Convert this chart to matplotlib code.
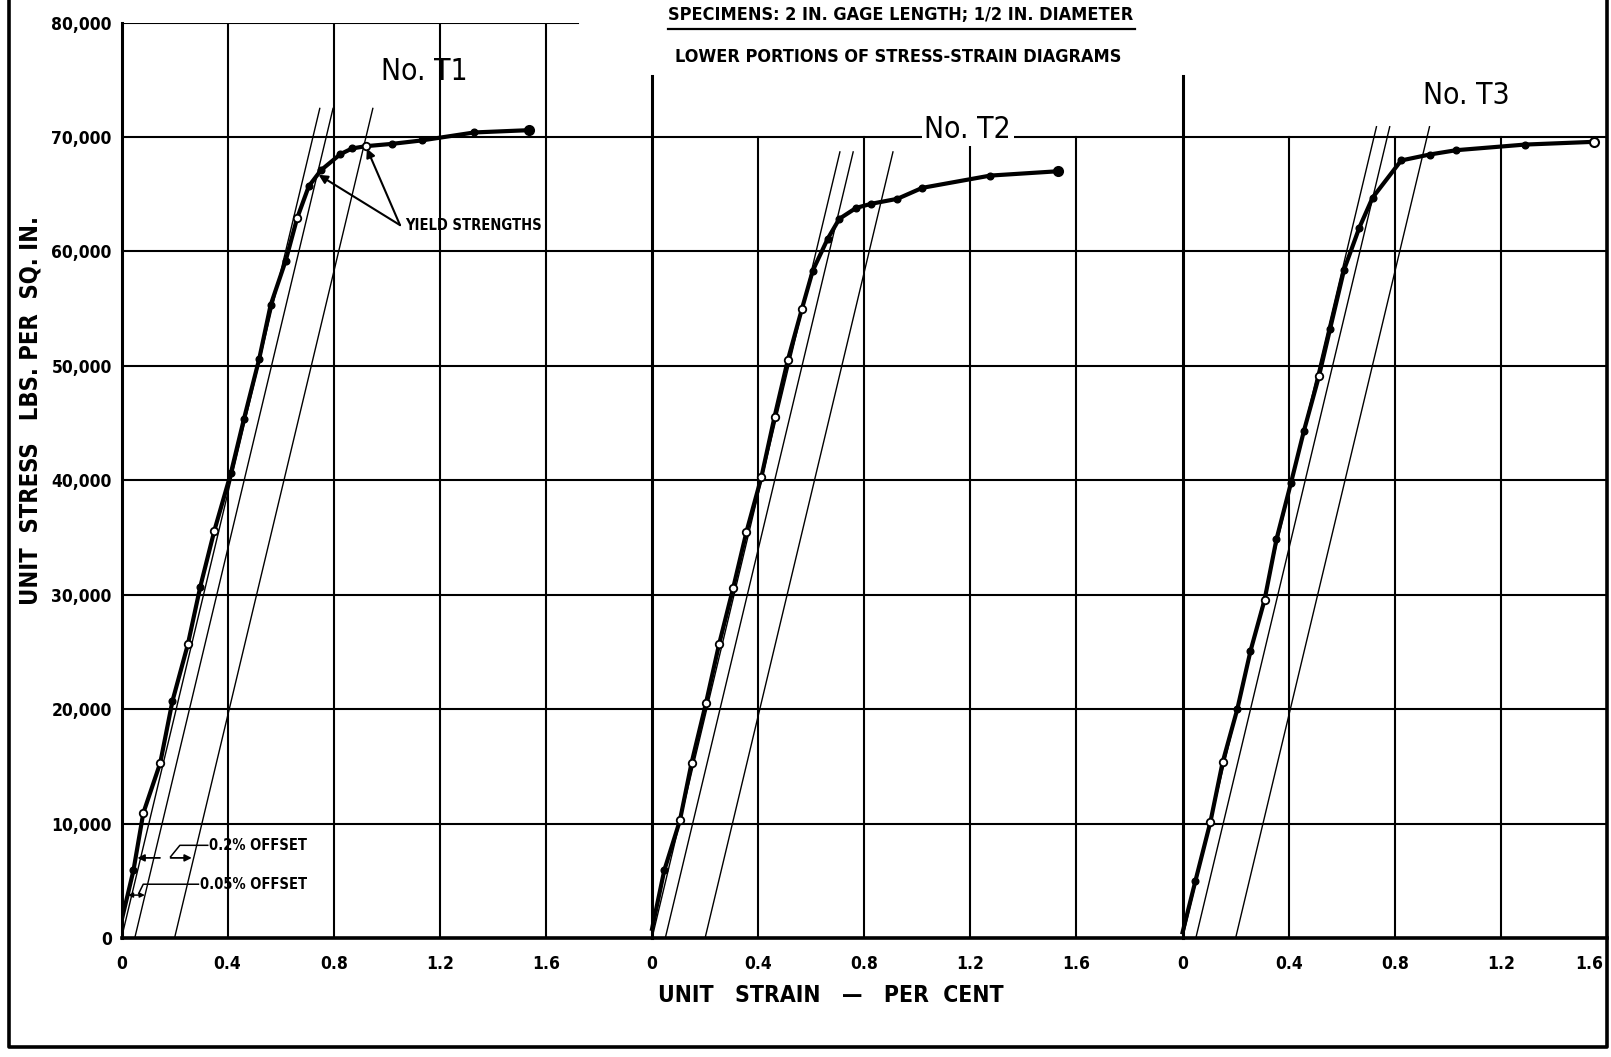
import matplotlib
matplotlib.use('Agg')
import matplotlib.pyplot as plt
from matplotlib import font_manager
from matplotlib.lines import Line2D
import numpy as np

# ---------------- data ----------------
strain_ticks = [0, 0.4, 0.8, 1.2, 1.6]
strain_tick_labels = ['0', '0.4', '0.8', '1.2', '1.6']
stress_ticks = [0, 10000, 20000, 30000, 40000, 50000, 60000, 70000, 80000]
stress_tick_labels = ['0', '10,000', '20,000', '30,000', '40,000',
                      '50,000', '60,000', '70,000', '80,000']

panel_offsets = [0.0, 2.0, 4.0]          # each specimen is drawn 2.0 % further right
panel_names = ['No. T1', 'No. T2', 'No. T3']
panel_name_x = [1.14, 1.19, 1.07]
panel_name_y = [75700, 70700, 73600]

# specimen T1  (strain %, stress psi, open marker?)
t1_strain = [0.0, 0.045, 0.082, 0.146, 0.192, 0.250, 0.297, 0.350, 0.412, 0.462,
             0.519, 0.562, 0.619, 0.662, 0.706, 0.752, 0.825, 0.869, 0.921, 1.019,
             1.131, 1.330, 1.537]
t1_stress = [1500, 5900, 10900, 15300, 20700, 25650, 30700, 35600, 40600, 45400,
             50600, 55300, 59200, 62900, 65700, 67100, 68500, 69000, 69200, 69400,
             69700, 70400, 70600]
t1_open = [None, False, True, True, False, True, False, True, False, False,
           False, False, False, True, False, False, False, False, True, False,
           False, False, False]

# specimen T2
t2_strain = [0.0, 0.046, 0.105, 0.149, 0.203, 0.253, 0.306, 0.356, 0.412, 0.462,
             0.512, 0.565, 0.606, 0.662, 0.706, 0.769, 0.825, 0.925, 1.019, 1.275,
             1.531]
t2_stress = [800, 5900, 10270, 15300, 20500, 25700, 30600, 35500, 40260, 45570,
             50520, 54980, 58330, 61100, 62850, 63800, 64160, 64600, 65560, 66630,
             67010]
t2_open = [None, False, True, True, True, True, True, True, True, True,
           True, True, False, False, False, False, False, False, False, False,
           False]

# specimen T3
t3_strain = [0.0, 0.048, 0.105, 0.151, 0.206, 0.256, 0.309, 0.354, 0.409, 0.457,
             0.514, 0.556, 0.609, 0.666, 0.716, 0.824, 0.931, 1.032, 1.291, 1.550]
t3_stress = [500, 4950, 10150, 15360, 19970, 25080, 29540, 34850, 39800, 44280,
             49090, 53230, 58420, 62060, 64690, 67950, 68470, 68850, 69340, 69580]
t3_open = [None, False, True, True, False, False, True, False, False, False,
           True, False, False, False, False, False, False, False, False, True]

curves = [(t1_strain, t1_stress, t1_open),
          (t2_strain, t2_stress, t2_open),
          (t3_strain, t3_stress, t3_open)]

# elastic / offset construction lines
modulus_per_pct = 97000                  # psi per 1 % strain
offsets_pct = [0.0, 0.05, 0.2]
offset_line_top = [72500, 68700, 70900]

# yield strengths of T1 (0.05 % and 0.2 % offsets)
yield_strain = [0.743, 0.925]
yield_stress = [66700, 69000]

# ---------------- fonts ----------------
names = {f.name for f in font_manager.fontManager.ttflist}
if 'Liberation Sans Narrow' in names:
    FONT = dict(family='Liberation Sans Narrow')
else:
    FONT = dict(family='DejaVu Sans', stretch='condensed')

# ---------------- figure ----------------
W, H = 1611, 1057
fig = plt.figure(figsize=(W / 100, H / 100), dpi=100)
ax_l, ax_r, ax_t, ax_b = 121.5, 1607, 22.6, 938
ax = fig.add_axes([ax_l / W, 1 - ax_b / H, (ax_r - ax_l) / W, (ax_b - ax_t) / H])
ax.set_xlim(0, 5.6)
ax.set_ylim(0, 80000)
for s in ax.spines.values():
    s.set_visible(False)

K = 'black'
GRID_LW = 1.5
AXIS_LW = 2.2

# horizontal grid
for v in stress_ticks[1:-1]:
    ax.plot([0, 5.6], [v, v], color=K, lw=GRID_LW, solid_capstyle='butt', zorder=1)
ax.plot([0, 1.72], [80000, 80000], color=K, lw=GRID_LW, zorder=1)
ax.plot([0, 5.6], [0, 0], color=K, lw=AXIS_LW + 0.4, zorder=2, clip_on=False)

# vertical grid per panel
axis_top = [80000, 75300, 75300]
grid_top = [80000, 70000, 70000]
for i, off in enumerate(panel_offsets):
    ax.plot([off, off], [0, axis_top[i]], color=K, lw=AXIS_LW, zorder=2, clip_on=False)
    for t in strain_ticks[1:]:
        x = off + t
        if x > 5.59:
            continue
        ax.plot([x, x], [0, grid_top[i]], color=K, lw=GRID_LW, zorder=1)

# offset construction lines
for i, off in enumerate(panel_offsets):
    top = offset_line_top[i]
    for o in offsets_pct:
        ax.plot([off + o, off + o + top / modulus_per_pct], [0, top],
                color=K, lw=1.0, zorder=3)

# stress-strain curves
for i, (xs, ys, op) in enumerate(curves):
    off = panel_offsets[i]
    xs = np.asarray(xs) + off
    ys = np.asarray(ys)
    ax.plot(xs, ys, color=K, lw=3.0, zorder=4, solid_joinstyle='round')
    filled = [j for j, o in enumerate(op) if o is False]
    hollow = [j for j, o in enumerate(op) if o is True]
    ax.plot(xs[filled], ys[filled], 'o', color=K, ms=4.8, zorder=5)
    ax.plot(xs[hollow], ys[hollow], 'o', mfc='white', mec=K, mew=1.3, ms=5.4, zorder=6)
    ax.plot(xs[-1:], ys[-1:], 'o', mfc='white' if op[-1] else K, mec=K, mew=1.5,
            ms=6.5, zorder=6)

# y tick labels
ax.set_yticks(stress_ticks)
ax.set_yticklabels(stress_tick_labels, fontsize=12.5, fontweight='bold', **FONT)
ax.tick_params(axis='y', length=0, pad=7)
ax.set_xticks([])

# x tick labels (repeat per panel)
for off in panel_offsets:
    for t, lab in zip(strain_ticks, strain_tick_labels):
        x = off + t
        ha = 'center'
        if x > 5.59:
            x, ha = 5.585, 'right'
        ax.text(x, -2300, lab, ha=ha, va='center', fontsize=12.5,
                fontweight='bold', clip_on=False, **FONT)

# panel names
for i, off in enumerate(panel_offsets):
    kw = {}
    if i == 1:
        kw['bbox'] = dict(facecolor='white', edgecolor='none', pad=2)
    ax.text(off + panel_name_x[i], panel_name_y[i], panel_names[i], ha='center',
            va='center', fontsize=21.5, zorder=7, **FONT, **kw)

# yield strength annotation
ax.text(1.07, 62300, 'YIELD STRENGTHS', ha='left', va='center', fontsize=10.5,
        fontweight='bold', zorder=7, **FONT)
for xs_, ys_ in zip(yield_strain, yield_stress):
    ax.annotate('', xy=(xs_, ys_), xytext=(1.05, 62300),
                arrowprops=dict(arrowstyle='-|>', color=K, lw=1.5,
                                mutation_scale=13, shrinkA=0, shrinkB=0), zorder=7)

# offset annotations
ax.text(0.33, 8100, '0.2% OFFSET', ha='left', va='center', fontsize=10.5,
        fontweight='bold', zorder=7, **FONT)
ax.plot([0.325, 0.22, 0.185], [8100, 8100, 7100], color=K, lw=1.1, zorder=7)
ax.annotate('', xy=(0.06, 7000), xytext=(0.145, 7000),
            arrowprops=dict(arrowstyle='-|>', color=K, lw=1.3, mutation_scale=10,
                            shrinkA=0, shrinkB=0), zorder=7)
ax.annotate('', xy=(0.265, 7000), xytext=(0.185, 7000),
            arrowprops=dict(arrowstyle='-|>', color=K, lw=1.3, mutation_scale=10,
                            shrinkA=0, shrinkB=0), zorder=7)

ax.text(0.295, 4700, '0.05% OFFSET', ha='left', va='center', fontsize=10.5,
        fontweight='bold', zorder=7, **FONT)
ax.plot([0.29, 0.082, 0.065], [4700, 4700, 3900], color=K, lw=1.1, zorder=7)
ax.annotate('', xy=(0.024, 3750), xytext=(0.088, 3750),
            arrowprops=dict(arrowstyle='<|-|>', color=K, lw=1.1, mutation_scale=7,
                            shrinkA=0, shrinkB=0), zorder=7)

# axis titles
fig.text(31 / W, 1 - 410 / H, 'UNIT  STRESS   LBS. PER  SQ. IN.', rotation=90,
         ha='center', va='center', fontsize=17, fontweight='bold', **FONT)
fig.text(831 / W, 1 - 995 / H, 'UNIT   STRAIN   \u2014   PER  CENT',
         ha='center', va='center', fontsize=16.5, fontweight='bold', **FONT)

# headings
fig.text(901 / W, 1 - 15.5 / H, 'SPECIMENS: 2 IN. GAGE LENGTH; 1/2 IN. DIAMETER',
         ha='center', va='center', fontsize=13, fontweight='bold', **FONT)
fig.add_artist(Line2D([668 / W, 1135 / W], [1 - 29 / H, 1 - 29 / H], color=K, lw=1.6))
fig.text(898 / W, 1 - 57.5 / H, 'LOWER PORTIONS OF STRESS-STRAIN DIAGRAMS',
         ha='center', va='center', fontsize=13, fontweight='bold', **FONT)

# outer frame (open at top)
fx0, fx1, fy1 = 9, 1607, 1047
fig.add_artist(Line2D([fx0 / W, fx0 / W, fx1 / W, fx1 / W],
                      [1.0, 1 - fy1 / H, 1 - fy1 / H, 1.0], color=K, lw=2.6))

fig.savefig('out.png', dpi=100, facecolor='white')
